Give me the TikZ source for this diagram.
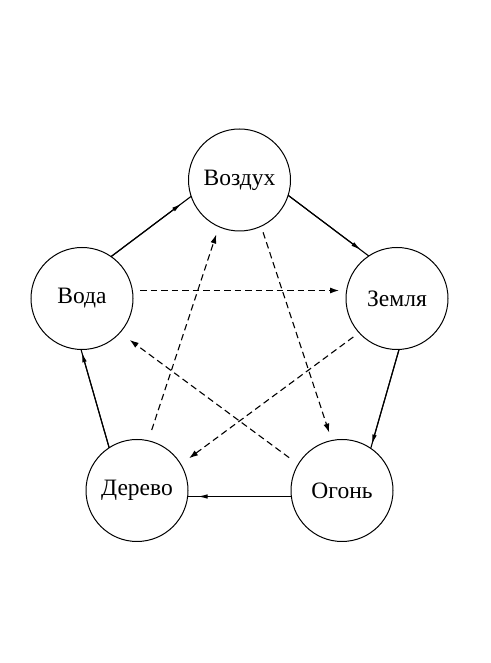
\documentclass[tikz,border=0pt]{standalone}
\usepackage{fontspec}
\setmainfont{Liberation Serif}
\usetikzlibrary{arrows.meta,calc}
\tikzset{
  elem/.style={circle,draw,line width=1pt,minimum size=102pt,inner sep=0pt,font=\fontsize{23.5}{28}\selectfont},
  solidline/.style={line width=1.1pt},
  solidtip/.style={line width=1.1pt,-{Latex[length=10pt,width=4.5pt]}},
  dashline/.style={line width=1.1pt,dash pattern=on 6.5pt off 4pt,-{Latex[length=9pt,width=6pt]}}
}
\begin{document}
\begin{tikzpicture}[x=1pt,y=1pt]
\useasboundingbox (0,0) rectangle (490,663);
\node[elem] (vozd) at (239.5,483) {Воздух};
\node[elem] (voda) at (82,364.5) {Вода};
\node[elem] (zeml) at (397,364.5) {Земля};
\node[elem] (dere) at (137,172.5) {Дерево};
\node[elem] (ogon) at (342,172.5) {Огонь};
% solid cycle (shifted outward)
\coordinate (a1) at ($(voda.center)!16pt!90:(vozd.center)$);
\coordinate (b1) at ($(vozd.center)!16pt!-90:(voda.center)$);
\coordinate (a2) at ($(vozd.center)!17pt!90:(zeml.center)$);
\coordinate (b2) at ($(zeml.center)!17pt!-90:(vozd.center)$);
\coordinate (a3) at ($(zeml.center)!16pt!90:(ogon.center)$);
\coordinate (b3) at ($(ogon.center)!16pt!-90:(zeml.center)$);
\coordinate (a4) at ($(ogon.center)!6pt!90:(dere.center)$);
\coordinate (b4) at ($(dere.center)!6pt!-90:(ogon.center)$);
\coordinate (a5) at ($(dere.center)!15pt!90:(voda.center)$);
\coordinate (b5) at ($(voda.center)!15pt!-90:(dere.center)$);
\coordinate (s1) at ($(a1)!48.4pt!(b1)$); \coordinate (e1) at ($(b1)!48.4pt!(a1)$);
\coordinate (s2) at ($(a2)!48pt!(b2)$);   \coordinate (e2) at ($(b2)!48pt!(a2)$);
\coordinate (s3) at ($(a3)!48.4pt!(b3)$); \coordinate (e3) at ($(b3)!48.4pt!(a3)$);
\coordinate (s4) at ($(a4)!50.6pt!(b4)$); \coordinate (e4) at ($(b4)!50.6pt!(a4)$);
\coordinate (s5) at ($(a5)!48.7pt!(b5)$); \coordinate (e5) at ($(b5)!48.7pt!(a5)$);
\draw[solidline] (s1) -- (e1);
\draw[solidtip] (s1) -- ($(e1)!12pt!(s1)$);
\draw[solidline] (s2) -- (e2);
\draw[solidtip] (s2) -- ($(e2)!10pt!(s2)$);
\draw[solidline] (s3) -- (e3);
\draw[solidtip] (s3) -- ($(e3)!4pt!(s3)$);
\draw[solidline] (s4) -- (e4);
\draw[solidtip] (s4) -- ($(e4)!10pt!(s4)$);
\draw[solidline] (s5) -- (e5);
\draw[solidtip] (s5) -- ($(e5)!3pt!(s5)$);
% dashed pentagram (shifted outward)
\coordinate (p1) at ($(voda.center)!8pt!90:(zeml.center)$);
\coordinate (q1) at ($(zeml.center)!8pt!-90:(voda.center)$);
\coordinate (p2) at ($(zeml.center)!5pt!90:(dere.center)$);
\coordinate (q2) at ($(dere.center)!5pt!-90:(zeml.center)$);
\coordinate (p3) at ($(dere.center)!5pt!90:(vozd.center)$);
\coordinate (q3) at ($(vozd.center)!5pt!-90:(dere.center)$);
\coordinate (p4) at ($(vozd.center)!6pt!90:(ogon.center)$);
\coordinate (q4) at ($(ogon.center)!6pt!-90:(vozd.center)$);
\coordinate (p5) at ($(ogon.center)!5pt!90:(voda.center)$);
\coordinate (q5) at ($(voda.center)!5pt!-90:(ogon.center)$);
\draw[dashline] ($(p1)!58pt!(q1)$) -- ($(q1)!58pt!(p1)$);
\draw[dashline] ($(p2)!58pt!(q2)$) -- ($(q2)!61pt!(p2)$);
\draw[dashline] ($(p3)!62pt!(q3)$) -- ($(q3)!59pt!(p3)$);
\draw[dashline] ($(p4)!57pt!(q4)$) -- ($(q4)!59pt!(p4)$);
\draw[dashline] ($(p5)!62pt!(q5)$) -- ($(q5)!63pt!(p5)$);
\end{tikzpicture}
\end{document}
